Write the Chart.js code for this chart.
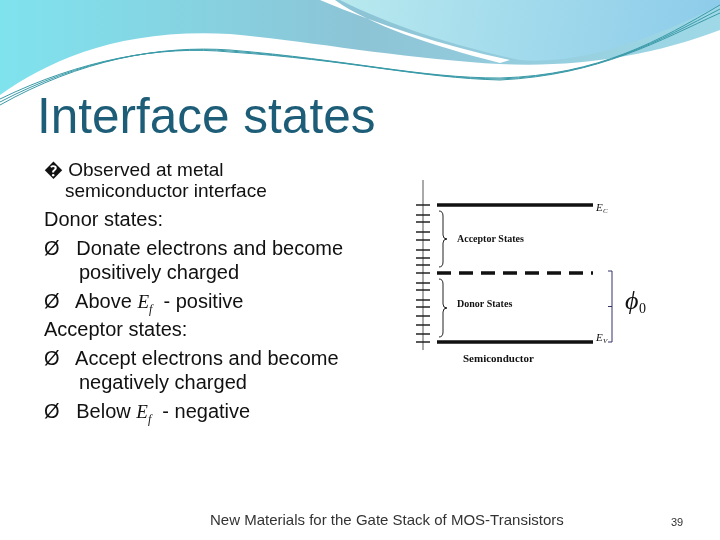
<!DOCTYPE html>
<html><head><meta charset="utf-8">
<script src="https://cdn.jsdelivr.net/npm/chart.js@4/dist/chart.umd.min.js"></script>
<style>
body{margin:0;width:720px;height:540px;overflow:hidden;background:#fff;font-family:"Liberation Sans",Arial,sans-serif;position:relative}
#bg{position:absolute;left:0;top:0}
.t{position:absolute;white-space:nowrap;color:#111;font-size:20px}
.ef{font-family:"Liberation Serif",serif;font-style:italic;font-size:19px}
.ef sub{font-size:12px}
#wrap{position:absolute;left:400px;top:170px;width:260px;height:200px}
</style></head><body>
<canvas id="bg" width="720" height="540"></canvas>
<div class="t" style="left:37px;top:87px;font-size:49.5px;color:#1d5d78">Interface states</div>
<div class="t" style="left:44px;top:156px;font-size:19px">� Observed at metal</div>
<div class="t" style="left:65px;top:180px;font-size:19px">semiconductor interface</div>
<div class="t" style="left:44px;top:208px">Donor states:</div>
<div class="t" style="left:44px;top:237px">Ø&nbsp;&nbsp; Donate electrons and become</div>
<div class="t" style="left:79px;top:261px">positively charged</div>
<div class="t" style="left:44px;top:290px">Ø&nbsp;&nbsp; Above <span class="ef">E<sub>f</sub></span>&nbsp; - positive</div>
<div class="t" style="left:44px;top:318px">Acceptor states:</div>
<div class="t" style="left:44px;top:347px">Ø&nbsp;&nbsp; Accept electrons and become</div>
<div class="t" style="left:79px;top:371px">negatively charged</div>
<div class="t" style="left:44px;top:400px">Ø&nbsp;&nbsp; Below <span class="ef">E<sub>f</sub></span>&nbsp; - negative</div>
<div class="t" style="left:210px;top:511px;font-size:15px;color:#333">New Materials for the Gate Stack of MOS-Transistors</div>
<div class="t" style="left:671px;top:516px;font-size:11px;color:#333">39</div>
<div id="wrap"><canvas id="c"></canvas></div>
<script>
const g=document.getElementById('bg').getContext('2d');
let gr=g.createLinearGradient(0,0,720,0);gr.addColorStop(0,'#7fe3ee');gr.addColorStop(0.5,'#8cc4d6');gr.addColorStop(1,'#9fd8e6');
g.fillStyle=gr;g.beginPath();g.moveTo(0,0);g.lineTo(720,0);g.lineTo(720,30);g.bezierCurveTo(640,60,560,70,470,62);g.bezierCurveTo(380,55,300,40,230,34);g.bezierCurveTo(120,28,50,60,0,95);g.closePath();g.fill();
g.fillStyle='#fff';g.beginPath();g.moveTo(320,0);g.bezierCurveTo(380,25,440,45,510,60);g.lineTo(500,63);g.bezierCurveTo(430,45,370,25,335,0);g.fill();
let gr2=g.createLinearGradient(350,0,720,60);gr2.addColorStop(0,'#b6e8ee');gr2.addColorStop(1,'#8ccbea');
g.fillStyle=gr2;g.beginPath();g.moveTo(340,0);g.lineTo(720,0);g.lineTo(720,5);g.bezierCurveTo(650,40,580,65,520,60);g.bezierCurveTo(450,45,390,25,340,0);g.fill();
g.strokeStyle='#3a9aa8';g.lineWidth=1;
for(let k=0;k<3;k++){g.beginPath();g.moveTo(0,105-k*3);g.bezierCurveTo(80,60,160,45,230,50+k);g.bezierCurveTo(350,60,420,78,500,78+k);g.bezierCurveTo(600,75,660,40,720,5+k*4);g.stroke();}

const levelNames=['Ec','Ef','Ev'];
const levelValues=[165,97,28];
const tickValues=[165,155,148,138,130,120,112,105,97,87,80,70,63,54,45,36,28];
const axisRange=[20,190];
const lineX=[37,193];
const ds=levelValues.map((v,i)=>({data:[{x:lineX[0],y:v},{x:lineX[1],y:v}],borderColor:'#111',borderWidth:3.5,pointRadius:0,borderDash:levelNames[i]==='Ef'?[14,8]:[]}));
ds.push({data:[{x:23,y:axisRange[0]},{x:23,y:axisRange[1]}],borderColor:'#555',borderWidth:1,pointRadius:0});
const deco={id:'deco',afterDatasetsDraw(ch){
 const c=ch.ctx,x=ch.scales.x,y=ch.scales.y;
 c.save();c.strokeStyle='#222';c.lineWidth=1.5;
 tickValues.forEach(v=>{c.beginPath();c.moveTo(x.getPixelForValue(16),y.getPixelForValue(v));c.lineTo(x.getPixelForValue(30),y.getPixelForValue(v));c.stroke();});
 function brace(xx,y1,y2){const p1=y.getPixelForValue(y1),p2=y.getPixelForValue(y2),m=(p1+p2)/2,X=x.getPixelForValue(xx);
  c.lineWidth=1;c.beginPath();c.moveTo(X-4,p1);c.quadraticCurveTo(X,p1,X,p1+5);c.lineTo(X,m-4);c.quadraticCurveTo(X,m,X+4,m);c.quadraticCurveTo(X,m,X,m+4);c.lineTo(X,p2-5);c.quadraticCurveTo(X,p2,X-4,p2);c.stroke();}
 brace(43,159,103);brace(43,91,33);
 const bx=x.getPixelForValue(212),t=y.getPixelForValue(99),b=y.getPixelForValue(28);
 c.strokeStyle='#336';c.beginPath();c.moveTo(bx-4,t);c.lineTo(bx,t);c.lineTo(bx,b);c.lineTo(bx-4,b);c.moveTo(bx,(t+b)/2);c.lineTo(bx-4,(t+b)/2);c.stroke();
 c.fillStyle='#111';c.font='bold 10px "Liberation Serif",serif';c.textBaseline='middle';
 c.fillText('Acceptor States',x.getPixelForValue(57),y.getPixelForValue(131));
 c.fillText('Donor States',x.getPixelForValue(57),y.getPixelForValue(66));
 c.font='bold 11px "Liberation Serif",serif';c.fillText('Semiconductor',x.getPixelForValue(63),y.getPixelForValue(11));
 c.font='italic 11px "Liberation Serif",serif';
 c.fillText('E',x.getPixelForValue(196),y.getPixelForValue(162));c.font='italic 7px serif';c.fillText('C',x.getPixelForValue(203),y.getPixelForValue(159));
 c.font='italic 11px "Liberation Serif",serif';c.fillText('E',x.getPixelForValue(196),y.getPixelForValue(32));c.font='italic 7px serif';c.fillText('V',x.getPixelForValue(203),y.getPixelForValue(29));
 c.font='italic 26px "Liberation Serif",serif';c.fillText('ϕ',x.getPixelForValue(225),y.getPixelForValue(68));
 c.font='14px "Liberation Serif",serif';c.fillText('0',x.getPixelForValue(239),y.getPixelForValue(61));
 c.restore();}};
new Chart(document.getElementById('c'),{type:'line',data:{datasets:ds},plugins:[deco],
 options:{responsive:true,maintainAspectRatio:false,animation:false,layout:{padding:0},
  plugins:{legend:{display:false},tooltip:{enabled:false}},
  scales:{x:{type:'linear',min:0,max:260,display:false},y:{type:'linear',min:0,max:200,display:false}}}});
</script></body></html>
